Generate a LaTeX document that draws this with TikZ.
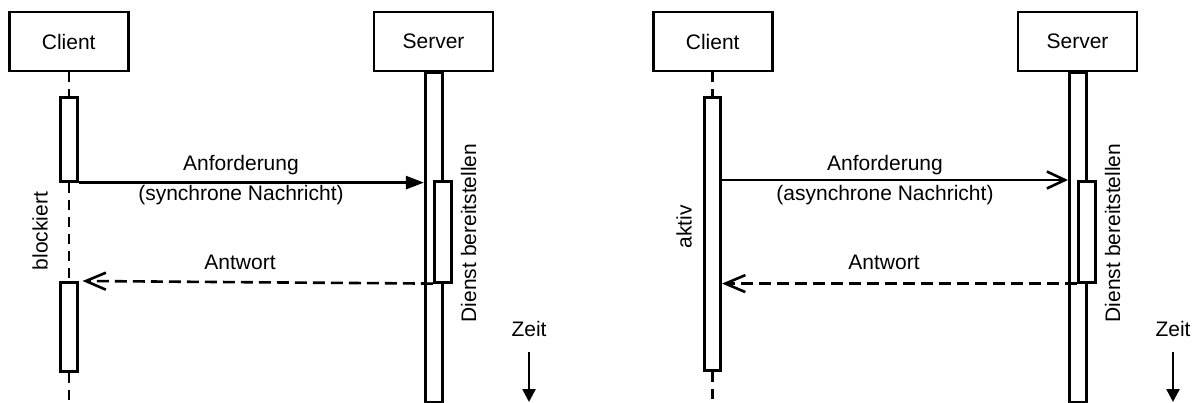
\documentclass[tikz,border=0pt]{standalone}
\usepackage{fontspec}
\setmainfont{Liberation Sans}
\usetikzlibrary{arrows.meta}
\begin{document}
\begin{tikzpicture}[x=1pt,y=-1pt,line width=2.6pt,
  font=\fontsize{21}{25}\selectfont,
  headbox/.style={draw,minimum width=119pt,minimum height=59pt,inner sep=0pt},
  actbar/.style={draw,fill=white,minimum width=16.5pt,inner sep=0pt,anchor=north},
  lifeline/.style={dash pattern=on 10pt off 7pt},
  syncmsg/.style={-{Triangle[length=18pt,width=13pt]}},
  asyncmsg/.style={-{Straight Barb[length=18pt,width=17pt]}},
  replymsg/.style={dash pattern=on 12pt off 6pt,-{Straight Barb[length=20pt,width=17pt]}},
  timearrow/.style={-{Triangle[length=13pt,width=13pt]}},
  lbl/.style={inner sep=0pt,anchor=base},
  vlbl/.style={inner sep=0pt,rotate=90}]
\useasboundingbox (0,0) rectangle (1197,403);

% ---------- synchronous call ----------
\node[headbox] (cl1) at (68.7,41.5) {Client};
\node[headbox] (sv1) at (433.5,41.5) {Server};
\node[actbar,minimum height=84pt] (ca1) at (69,96) {};
\node[actbar,minimum height=89pt] (cb1) at (69,281) {};
\node[actbar,minimum width=17.5pt,minimum height=330pt] (sb1) at (434,71) {};
\node[actbar,minimum width=17.5pt,minimum height=101pt] (ds1) at (443,180) {};
\coordinate (cend1) at (69,403);

\draw[lifeline] (cl1.south -| ca1.north) -- (ca1.north);
\draw[lifeline] (ca1.south) -- (cb1.north);
\draw[lifeline] (cb1.south) -- (cend1);

\draw[syncmsg] (ca1.south east) -- (ca1.south east -| sb1.west);
\draw[replymsg] (ds1.south west) -- ([xshift=4pt]cb1.north east);

\node[lbl] (an1) at (241,171) {Anforderung};
\node[lbl] (sn1) at (241,201) {(synchrone Nachricht)};
\node[lbl] (aw1) at (240,270) {Antwort};
\node[vlbl] (bl1) at (40,231) {blockiert};
\node[vlbl] (db1) at (468.5,233) {Dienst bereitstellen};

\node[lbl] (zt1) at (529,337) {Zeit};
\coordinate (za1) at (529,352);
\coordinate (zb1) at (529,402);
\draw[timearrow] (za1) -- (zb1);

% ---------- asynchronous call ----------
\node[headbox] (cl2) at (712.7,41.5) {Client};
\node[headbox] (sv2) at (1077.5,41.5) {Server};
\node[actbar,minimum height=273pt] (ca2) at (712.5,96) {};
\node[actbar,minimum width=17.5pt,minimum height=330pt] (sb2) at (1078,71) {};
\node[actbar,minimum width=17.5pt,minimum height=101pt] (ds2) at (1087,180) {};
\coordinate (cend2) at (712.5,403);

\draw[lifeline] (cl2.south -| ca2.north) -- (ca2.north);
\draw[lifeline] (ca2.south) -- (cend2);

\draw[asyncmsg] (ca2.east |- ds2.north) -- (ds2.north -| sb2.west);
\draw[replymsg] (ds2.south west) -- (ds2.south west -| ca2.east);

\node[lbl] (an2) at (885,171) {Anforderung};
\node[lbl] (sn2) at (885,201) {(asynchrone Nachricht)};
\node[lbl] (aw2) at (884,270) {Antwort};
\node[vlbl] (ak2) at (684,227) {aktiv};
\node[vlbl] (db2) at (1112.5,233) {Dienst bereitstellen};

\node[lbl] (zt2) at (1173,337) {Zeit};
\coordinate (za2) at (1173,352);
\coordinate (zb2) at (1173,402);
\draw[timearrow] (za2) -- (zb2);
\end{tikzpicture}
\end{document}
